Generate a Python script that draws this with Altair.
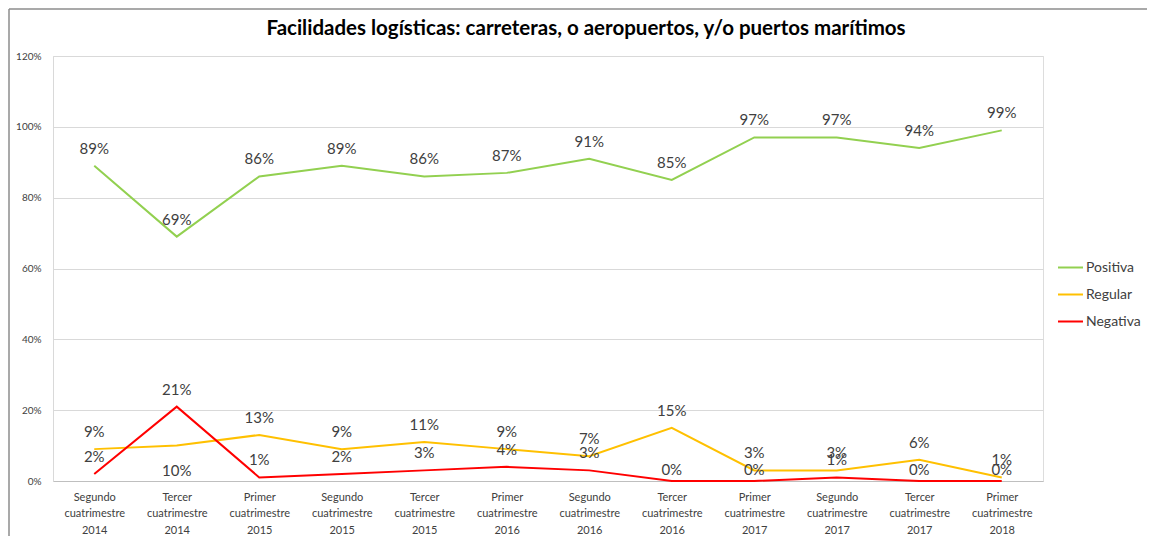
import altair as alt
import pandas as pd

categories = [
    "Segundo\ncuatrimestre\n2014", "Tercer\ncuatrimestre\n2014", "Primer\ncuatrimestre\n2015",
    "Segundo\ncuatrimestre\n2015", "Tercer\ncuatrimestre\n2015", "Primer\ncuatrimestre\n2016",
    "Segundo\ncuatrimestre\n2016", "Tercer\ncuatrimestre\n2016", "Primer\ncuatrimestre\n2017",
    "Segundo\ncuatrimestre\n2017", "Tercer\ncuatrimestre\n2017", "Primer\ncuatrimestre\n2018",
]
positiva = [89, 69, 86, 89, 86, 87, 91, 85, 97, 97, 94, 99]
regular = [9, 10, 13, 9, 11, 9, 7, 15, 3, 3, 6, 1]
negativa = [2, 21, 1, 2, 3, 4, 3, 0, 0, 1, 0, 0]
series = ["Positiva", "Regular", "Negativa"]
colors = ["#92D050", "#FFC000", "#FF0000"]
y_ticks = [0, 0.2, 0.4, 0.6, 0.8, 1.0, 1.2]

rows = []
for s, vals in zip(series, [positiva, regular, negativa]):
    for i, (c, v) in enumerate(zip(categories, vals)):
        rows.append({"cat": c, "serie": s, "value": v / 100, "idx": i})
df = pd.DataFrame(rows)

FONT = "Lato"

x = alt.X(
    "cat:N", sort=categories,
    scale=alt.Scale(type="point", padding=0.5),
    axis=alt.Axis(
        title=None, labelAngle=0, labelExpr="split(datum.label, '\\n')",
        labelFontSize=11, labelLineHeight=16.5, labelColor="#404040", labelFont=FONT,
        domainColor="#bfbfbf", domainWidth=1, ticks=False, grid=False, labelPadding=10,
    ),
)
y = alt.Y(
    "value:Q",
    scale=alt.Scale(domain=[0, 1.2], nice=False),
    axis=alt.Axis(
        values=y_ticks, format=".0%", title=None, labelFontSize=10, labelColor="#404040",
        labelFont=FONT, gridColor="#d9d9d9", gridWidth=1, domain=True,
        domainColor="#d9d9d9", ticks=False, labelPadding=12,
    ),
)
color = alt.Color(
    "serie:N",
    scale=alt.Scale(domain=series, range=colors),
    legend=alt.Legend(
        title=None, orient="none", legendX=1004, legendY=198, symbolType="stroke",
        symbolStrokeWidth=2, symbolSize=625, labelFontSize=14, labelFont=FONT,
        labelColor="#404040", rowPadding=6, labelOffset=2,
    ),
)

base = alt.Chart(df)
lines = base.mark_line(strokeWidth=2).encode(x=x, y=y, color=color, order="idx:Q")

text_kw = dict(fontSize=15, font=FONT, color="#404040")
txt = alt.Text("value:Q", format=".0%")
below_cond = "datum.serie == 'Regular' && datum.idx == 1"
low_cond = "datum.serie == 'Negativa' && datum.value == 0"

labels = base.transform_filter(
    f"!({below_cond}) && !({low_cond})"
).mark_text(dy=-17, **text_kw).encode(x=x, y=y, text=txt)
labels_below = base.transform_filter(below_cond).mark_text(dy=25, **text_kw).encode(
    x=x, y=y, text=txt
)
labels_low = base.transform_filter(low_cond).mark_text(dy=-11, **text_kw).encode(
    x=x, y=y, text=txt
)

# outer chart frame (left and top edges, as in the reference picture)
frame_left = alt.Chart(pd.DataFrame({"k": [0]})).mark_rule(
    color="#8c8c8c", strokeWidth=1.5
).encode(x=alt.value(-44), y=alt.value(-47), y2=alt.value(480))
frame_top = alt.Chart(pd.DataFrame({"k": [0]})).mark_rule(
    color="#8c8c8c", strokeWidth=1.5
).encode(y=alt.value(-47), x=alt.value(-44), x2=alt.value(1094))

chart = (
    alt.layer(frame_left, frame_top, lines, labels, labels_below, labels_low)
    .properties(
        width=990, height=425,
        title=alt.TitleParams(
            "Facilidades logísticas: carreteras, o aeropuertos, y/o puertos marítimos",
            fontSize=20.5, font=FONT, fontWeight="bold", color="#000000", offset=-31,
            anchor="middle", frame="group", dx=38,
        ),
        padding={"left": 0, "top": 0, "right": 0, "bottom": 0},
    )
    .configure_view(stroke="transparent")
    .configure(background="white")
)

chart.save("out.html", embed_options={"renderer": "svg", "actions": False})
